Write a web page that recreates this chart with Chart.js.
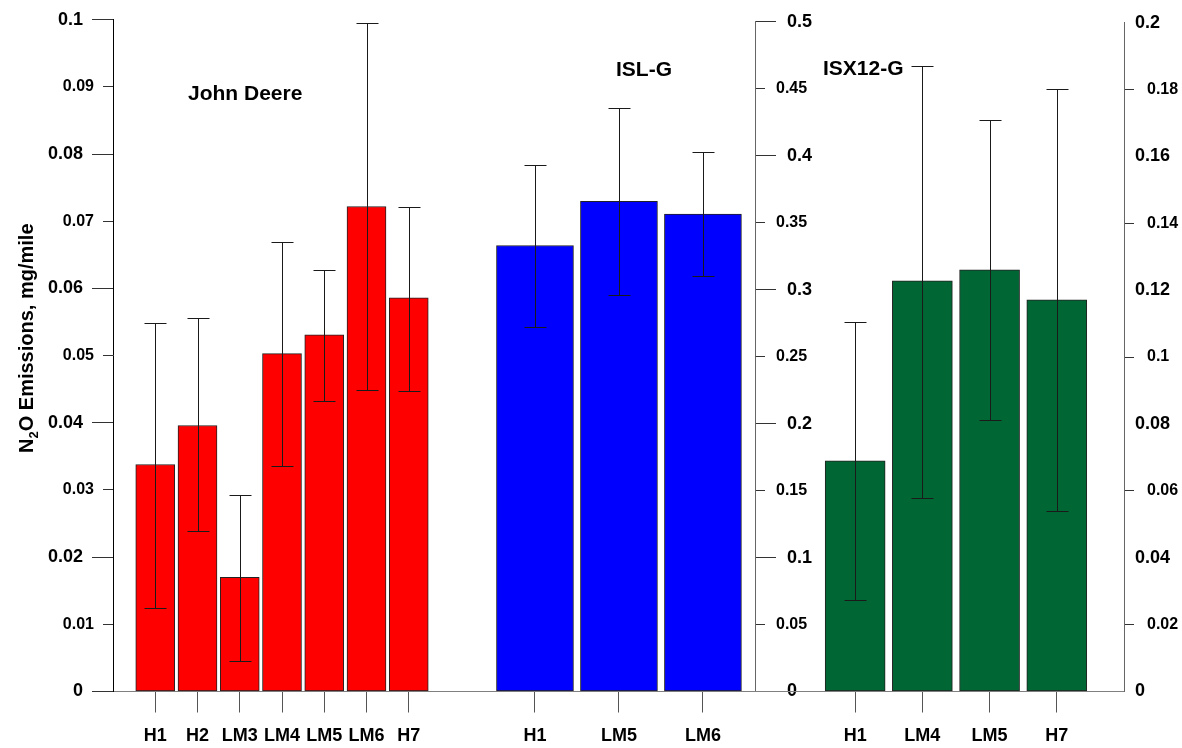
<!DOCTYPE html>
<html>
<head>
<meta charset="utf-8">
<script src="https://cdn.jsdelivr.net/npm/chart.js@4.4.1/dist/chart.umd.min.js"></script>
<style>
body{margin:0;background:#fff;width:1182px;height:748px;position:relative;overflow:hidden}
canvas{position:absolute;top:0}
</style>
</head>
<body>
<canvas id="jdChart" width="451" height="748" style="left:0px"></canvas>
<canvas id="islChart" width="379" height="748" style="left:451px"></canvas>
<canvas id="isxChart" width="427" height="748" style="left:755px"></canvas>
<script>
// John Deere, left axis
var jdCats=['H1','H2','LM3','LM4','LM5','LM6','H7']
var jdVals=[0.0338,0.0396,0.0170,0.0503,0.0531,0.0722,0.0586]
var jdHigh=[0.0549,0.0556,0.0292,0.0669,0.0627,0.0995,0.0722]
var jdLow=[0.0125,0.0239,0.0046,0.0336,0.0433,0.0449,0.0447]
var jdMajor=[0,0.02,0.04,0.06,0.08,0.1]
var jdMinor=[0.01,0.03,0.05,0.07,0.09]

// ISL-G, middle axis
var islCats=['H1','LM5','LM6']
var islVals=[0.333,0.366,0.3565]
var islHigh=[0.393,0.436,0.4025]
var islLow=[0.272,0.296,0.310]
var islMajor=[0,0.1,0.2,0.3,0.4,0.5]
var islMinor=[0.05,0.15,0.25,0.35,0.45]

// ISX12-G, right axis
var isxCats=['H1','LM4','LM5','H7']
var isxVals=[0.069,0.1228,0.1261,0.1171]
var isxHigh=[0.1106,0.187,0.1708,0.18]
var isxLow=[0.0274,0.0579,0.0811,0.0541]
var isxMajor=[0,0.04,0.08,0.12,0.16,0.2]
var isxMinor=[0.02,0.06,0.1,0.14,0.18]

const FONT="'Liberation Sans', Arial, sans-serif"
const fmt = v => String(parseFloat(Number(v).toFixed(4)))

const errorBars = {
	id:'errorBars',
	afterDatasetsDraw(chart, args, opts){
		var ctx=chart.ctx
		var meta=chart.getDatasetMeta(0)
		var ys=chart.scales.y
		ctx.save()
		ctx.strokeStyle='#1a1a1a'
		ctx.lineWidth=1
		meta.data.forEach((bar,i) => {
			var x=Math.round(bar.x)+0.5
			var top=Math.round(ys.getPixelForValue(opts.high[i]))+0.5
			var bot=Math.round(ys.getPixelForValue(opts.low[i]))+0.5
			ctx.beginPath()
			ctx.moveTo(x,top); ctx.lineTo(x,bot)
			ctx.moveTo(x-11,top); ctx.lineTo(x+11,top)
			ctx.moveTo(x-11,bot); ctx.lineTo(x+11,bot)
			ctx.stroke()
		})
		ctx.restore()
	}
}

// the minor axis sits on top of the major one; widen its box so its labels are not clipped
const minorAxisBox = {
	id:'minorAxisBox',
	afterLayout(chart){
		var mj=chart.scales.y, mn=chart.scales.yMinor
		mn.left=Math.min(mj.left, mn.left)
		mn.right=Math.max(mj.right, mn.right)
		mn.width=mn.right-mn.left
	}
}

const groupText = {
	id:'groupText',
	afterDraw(chart, args, opts){
		var ctx=chart.ctx
		ctx.save()
		ctx.fillStyle='#000'
		ctx.textBaseline='alphabetic'
		ctx.textAlign='left'
		ctx.font='bold 21px '+FONT
		ctx.fillText(opts.text, opts.x, opts.y)
		if (opts.yTitle) {
			// rotated axis title with subscript 2
			ctx.translate(33, 453)
			ctx.rotate(-Math.PI/2)
			var x=0
			ctx.font='bold 20px '+FONT
			ctx.fillText('N', x, 0)
			x+=ctx.measureText('N').width
			ctx.font='bold 13px '+FONT
			ctx.fillText('2', x, 5)
			x+=ctx.measureText('2').width
			ctx.font='bold 20px '+FONT
			ctx.fillText('O Emissions, mg/mile', x, 0)
		}
		ctx.restore()
	}
}

const yAxis = function(side, major, minor, isMajor, o){
	var ticksArr = isMajor ? major : minor
	return {
		type:'linear',
		axis:'y',
		position:side,
		weight: isMajor ? 1 : 0,
		min:0,
		max:major[major.length-1],
		afterBuildTicks: s => { s.ticks = ticksArr.map(v => ({value:v})) },
		afterFit: s => { s.width = isMajor ? o.width : 0 },
		ticks:{
			callback: fmt,
			color:'#000',
			autoSkip:false,
			padding: isMajor ? o.majorPad : o.minorPad,
			font:{family:FONT, weight:'bold', size: isMajor ? 18 : 16}
		},
		grid:{
			drawOnChartArea:false,
			drawTicks: isMajor ? o.majorTick > 0 : true,
			tickLength: isMajor ? o.majorTick : 10,
			tickColor:'#333',
			tickWidth:1
		},
		border:{display:isMajor, color:o.borderColor, width:1}
	}
}

const makeGroupChart = function(canvasId, cats, vals, high, low, color, o){
	var points = vals.map((v,i) => ({x:i+1, y:v}))
	return new Chart(document.getElementById(canvasId), {
		type:'bar',
		data:{
			datasets:[{
				data:points,
				backgroundColor:color,
				borderColor:'#222',
				borderWidth:1,
				borderSkipped:false,
				barThickness:o.barWidth,
				xAxisID:'x',
				yAxisID:'y'
			}]
		},
		options:{
			responsive:false,
			animation:false,
			events:[],
			layout:{padding:{top:18.5, bottom:0, left:0, right:0}},
			plugins:{
				legend:{display:false},
				tooltip:{enabled:false},
				errorBars:{high:high, low:low},
				groupText:{text:o.label, x:o.labelX, y:o.labelY, yTitle:o.yTitle}
			},
			scales:{
				x:{
					type:'linear',
					min:o.xMin,
					max:o.xMax,
					offset:false,
					afterBuildTicks: s => { s.ticks = cats.map((c,i) => ({value:i+1})) },
					afterFit: s => { s.height = 56.5 },
					ticks:{
						callback: v => cats[v-1],
						color:'#000',
						padding:13,
						maxRotation:0,
						autoSkip:false,
						font:{family:FONT, weight:'bold', size:18}
					},
					grid:{drawOnChartArea:false, offset:false, tickLength:21, tickColor:'#555'},
					border:{color:'#808080', width:1}
				},
				y: yAxis(o.side, o.major, o.minor, true, o),
				yMinor: yAxis(o.side, o.major, o.minor, false, o)
			}
		},
		plugins:[minorAxisBox, errorBars, groupText]
	})
}

makeGroupChart('jdChart', jdCats, jdVals, jdHigh, jdLow, '#FF0000', {
	side:'left', major:jdMajor, minor:jdMinor, width:113, majorPad:9, minorPad:9, majorTick:21,
	borderColor:'#000', barWidth:39, xMin:0, xMax:8,
	label:'John Deere', labelX:188, labelY:100, yTitle:true
})

makeGroupChart('islChart', islCats, islVals, islHigh, islLow, '#0000FF', {
	side:'right', major:islMajor, minor:islMinor, width:75, majorPad:11, minorPad:11, majorTick:21,
	borderColor:'#666', barWidth:77, xMin:0, xMax:3.62,
	label:'ISL-G', labelX:165, labelY:76, yTitle:false
})

makeGroupChart('isxChart', isxCats, isxVals, isxHigh, isxLow, '#006633', {
	side:'right', major:isxMajor, minor:isxMinor, width:58, majorPad:11, minorPad:13, majorTick:0,
	borderColor:'#666', barWidth:60, xMin:-0.49, xMax:5,
	label:'ISX12-G', labelX:68, labelY:75, yTitle:false
})
</script>
</body>
</html>
